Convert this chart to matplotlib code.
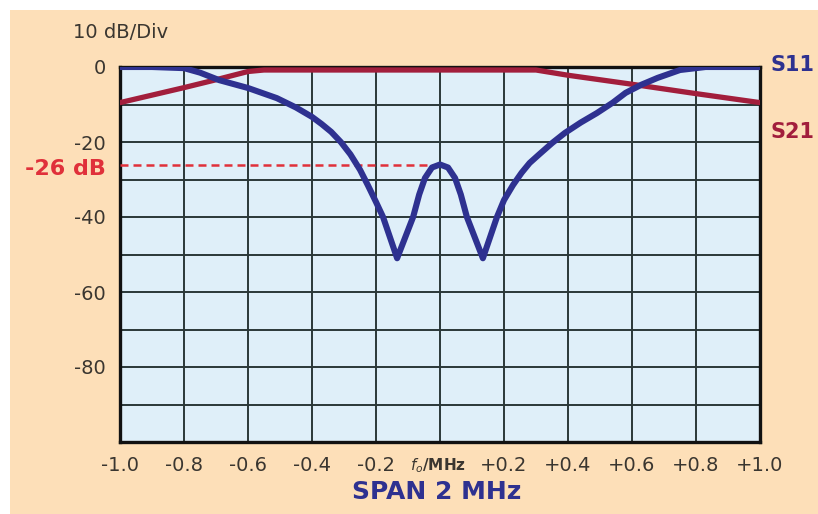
import numpy as np
import matplotlib.pyplot as plt
from matplotlib.patches import Rectangle
from matplotlib.ticker import MultipleLocator

# Frequency offset from f0 (MHz) and response (dB)
s11_x = [-1.0, -0.9, -0.8, -0.75, -0.69, -0.6, -0.51, -0.45, -0.4, -0.37, -0.34,
         -0.31, -0.28, -0.25, -0.225, -0.2, -0.178, -0.156, -0.134, -0.109, -0.084,
         -0.065, -0.047, -0.025, 0.0, 0.025, 0.047, 0.065, 0.084, 0.109, 0.134,
         0.156, 0.178, 0.2, 0.228, 0.255, 0.28, 0.31, 0.35, 0.39, 0.44, 0.49, 0.54,
         0.58, 0.63, 0.68, 0.75, 0.83, 0.9, 1.0]
s11_db = [0.0, 0.0, -0.3, -1.5, -3.5, -5.6, -8.3, -10.8, -13.3, -15.2, -17.3,
          -20.0, -23.3, -27.4, -31.6, -36.0, -40.0, -45.5, -51.0, -45.5, -40.0,
          -34.0, -29.6, -26.8, -26.0, -26.8, -29.6, -34.0, -40.0, -45.5, -51.0,
          -45.5, -40.0, -35.5, -31.5, -28.2, -25.6, -23.3, -20.3, -17.6, -14.8, -12.3, -9.5,
          -6.9, -4.7, -2.9, -0.8, 0.0, 0.0, 0.0]

s21_x = [-1.0, -0.8, -0.7, -0.6, -0.55, 0.3, 0.4, 0.6, 0.8, 1.0]
s21_db = [-9.5, -5.5, -3.4, -1.2, -0.8, -0.8, -2.2, -4.6, -7.1, -9.5]

marker_db = -26
x_ticks = [-1.0, -0.8, -0.6, -0.4, -0.2, 0.0, 0.2, 0.4, 0.6, 0.8, 1.0]
x_labels = ["-1.0", "-0.8", "-0.6", "-0.4", "-0.2", "", "+0.2", "+0.4", "+0.6", "+0.8", "+1.0"]
y_ticks = [0, -20, -40, -60, -80]
y_labels = ["0", "-20", "-40", "-60", "-80"]

navy = "#2e3190"
wine = "#a21e3c"
red = "#e0303a"
txt = "#3a3630"

fig = plt.figure(figsize=(8.18, 5.14), dpi=100, facecolor="white")
# peach panel behind everything (small white margin top/left)
fig.patches.append(Rectangle((10 / 818, 0), 1, 1 - 10 / 514, transform=fig.transFigure,
                             facecolor="#fddfb8", edgecolor="none", zorder=-10))

ax = fig.add_axes([120 / 818, 1 - 442 / 514, 640 / 818, 375 / 514])
ax.set_facecolor("#dfeff9")
ax.set_xlim(-1.0, 1.0)
ax.set_ylim(-100, 0)

ax.set_xticks(x_ticks)
ax.set_xticklabels(x_labels)
ax.set_yticks(y_ticks)
ax.set_yticklabels(y_labels)
ax.yaxis.set_minor_locator(MultipleLocator(10))
ax.tick_params(which="both", length=0)
ax.tick_params(axis="x", pad=10, labelsize=14, labelcolor=txt)
ax.tick_params(axis="y", pad=10, labelsize=14, labelcolor=txt)
ax.grid(True, which="both", color="#2b3838", linewidth=1.4)
ax.set_axisbelow(True)
for sp in ax.spines.values():
    sp.set_linewidth(2.4)
    sp.set_color("#111111")

# -26 dB marker
ax.plot([-1.0, 0.0], [marker_db, marker_db], color=red, linewidth=1.8,
        dashes=(3.2, 2.0), zorder=3)

ax.plot(s21_x, s21_db, color=wine, linewidth=3.8, solid_joinstyle="round",
        solid_capstyle="round", zorder=4)
ax.plot(s11_x, s11_db, color=navy, linewidth=4.4, solid_joinstyle="round",
        solid_capstyle="round", zorder=5)

# labels around the grid
fig.text(121 / 818, 1 - 33 / 514, "10 dB/Div", ha="center", va="center",
         fontsize=14, color=txt)
fig.text(65 / 818, 1 - 169 / 514, "-26 dB", ha="center", va="center",
         fontsize=16, fontweight="bold", color=red)
fig.text(770 / 818, 1 - 65 / 514, "S11", ha="left", va="center",
         fontsize=15, fontweight="bold", color=navy)
fig.text(770 / 818, 1 - 132 / 514, "S21", ha="left", va="center",
         fontsize=15, fontweight="bold", color=wine)
fig.text(438 / 818, 1 - 466 / 514, r"$f_o$/MHz", ha="center", va="center",
         fontsize=11, fontweight="bold", color=txt)
fig.text(437 / 818, 1 - 492 / 514, "SPAN 2 MHz", ha="center", va="center",
         fontsize=18, fontweight="bold", color=navy)

fig.savefig("out.png", dpi=100, facecolor=fig.get_facecolor())
